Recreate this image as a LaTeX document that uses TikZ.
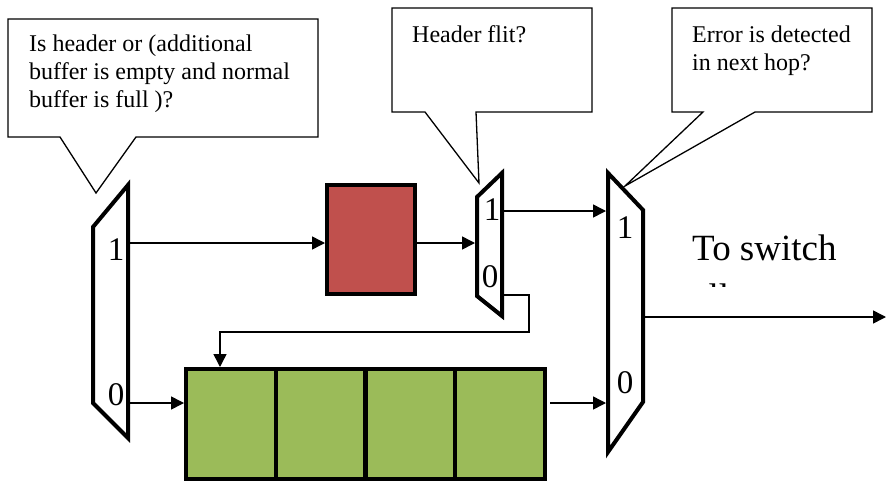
\documentclass[tikz,border=0pt]{standalone}
\usepackage{fontspec}
\setmainfont{Liberation Serif}
\usetikzlibrary{arrows.meta}
\definecolor{bufred}{HTML}{C0504D}
\definecolor{bufgreen}{HTML}{9BBB59}
\begin{document}
\begin{tikzpicture}[x=1pt,y=-1pt,
  muxshape/.style={line width=4pt},
  callout/.style={line width=1.3pt, fill=white},
  conn/.style={line width=1.5pt},
  arr/.style={line width=1.5pt, -{Triangle[length=13pt,width=13pt]}},
  boxstyle/.style={draw, line width=4pt, inner sep=0pt},
  ctext/.style={font=\fontsize{24}{27.6}\selectfont, align=left, inner sep=0pt, anchor=base west},
  digit/.style={font=\fontsize{33}{36}\selectfont, inner sep=0pt, anchor=base}
]
\useasboundingbox (0,0) rectangle (886,482);

% callouts
\draw[callout] (8,19) -- (318,19) -- (318,137) -- (136,137) -- (96,193) -- (60,137) -- (8,137) -- cycle;
\node[ctext] (t1) at (29,107) {Is header or (additional\\buffer is empty and normal\\buffer is full )?};
\draw[callout] (392,8) -- (592,8) -- (592,112) -- (476,112) -- (479,183) -- (425,112) -- (392,112) -- cycle;
\node[ctext] (t2) at (412,42) {Header flit?};
\draw[callout] (672,8) -- (872,8) -- (872,112) -- (755,112) -- (625,186) -- (703,112) -- (672,112) -- cycle;
\node[ctext] (t3) at (692,70) {Error is detected\\in next hop?};

% muxes
\draw[muxshape] (128,185) -- (128,438) -- (93,403) -- (93,227) -- cycle;
\draw[muxshape] (502,173) -- (502,316) -- (477,296) -- (477,197) -- cycle;
\draw[muxshape] (608,173) -- (643,210) -- (643,402) -- (608,452) -- cycle;
\node[digit] (m1d1) at (116,260) {1};
\node[digit] (m1d0) at (116,405) {0};
\node[digit] (m2d1) at (492,220) {1};
\node[digit] (m2d0) at (490,287) {0};
\node[digit] (m3d1) at (625,238) {1};
\node[digit] (m3d0) at (625,393) {0};

% buffers
\node[boxstyle, fill=bufred, minimum width=88pt, minimum height=109pt] (red) at (371,239.5) {};
\node[boxstyle, fill=bufgreen, minimum width=89.75pt, minimum height=110pt] (c1) at (230.9,424) {};
\node[boxstyle, fill=bufgreen, minimum width=89.75pt, minimum height=110pt] (c2) at (320.6,424) {};
\node[boxstyle, fill=bufgreen, minimum width=89.75pt, minimum height=110pt] (c3) at (410.4,424) {};
\node[boxstyle, fill=bufgreen, minimum width=89.75pt, minimum height=110pt] (c4) at (500.1,424) {};

% port coordinates
\coordinate (m1o1) at (130,243);
\coordinate (m1o0) at (130,403);
\coordinate (m2i) at (475,243);
\coordinate (m2o1) at (504,211);
\coordinate (m2o0) at (504,295);
\coordinate (bend) at (529,332);
\coordinate (drop) at (220,332);
\coordinate (m3i1) at (606,211);
\coordinate (m3i0) at (606,403);
\coordinate (gout) at (550,403);
\coordinate (m3o) at (645,317);
\coordinate (outend) at (886,317);

% connectors
\draw[arr] (m1o1) -- (m1o1 -| red.west);
\draw[arr] (m1o0) -- (m1o0 -| c1.west);
\draw[arr] (red.east |- m2i) -- (m2i);
\draw[arr] (m2o1) -- (m3i1);
\draw[arr] (m2o0) -| (bend) -- (drop) -- (drop |- c1.north);
\draw[arr] (gout) -- (m3i0);
\draw[arr] (m3o) -- (outend);

% output label
\node[ctext, font=\fontsize{37}{42}\selectfont] (sw) at (692,260) {To switch};
\begin{scope}
\clip (680,270) rectangle (860,286.5);
\node[ctext, font=\fontsize{37}{42}\selectfont] (sw2) at (692,309) {allocator};
\end{scope}
\end{tikzpicture}
\end{document}
